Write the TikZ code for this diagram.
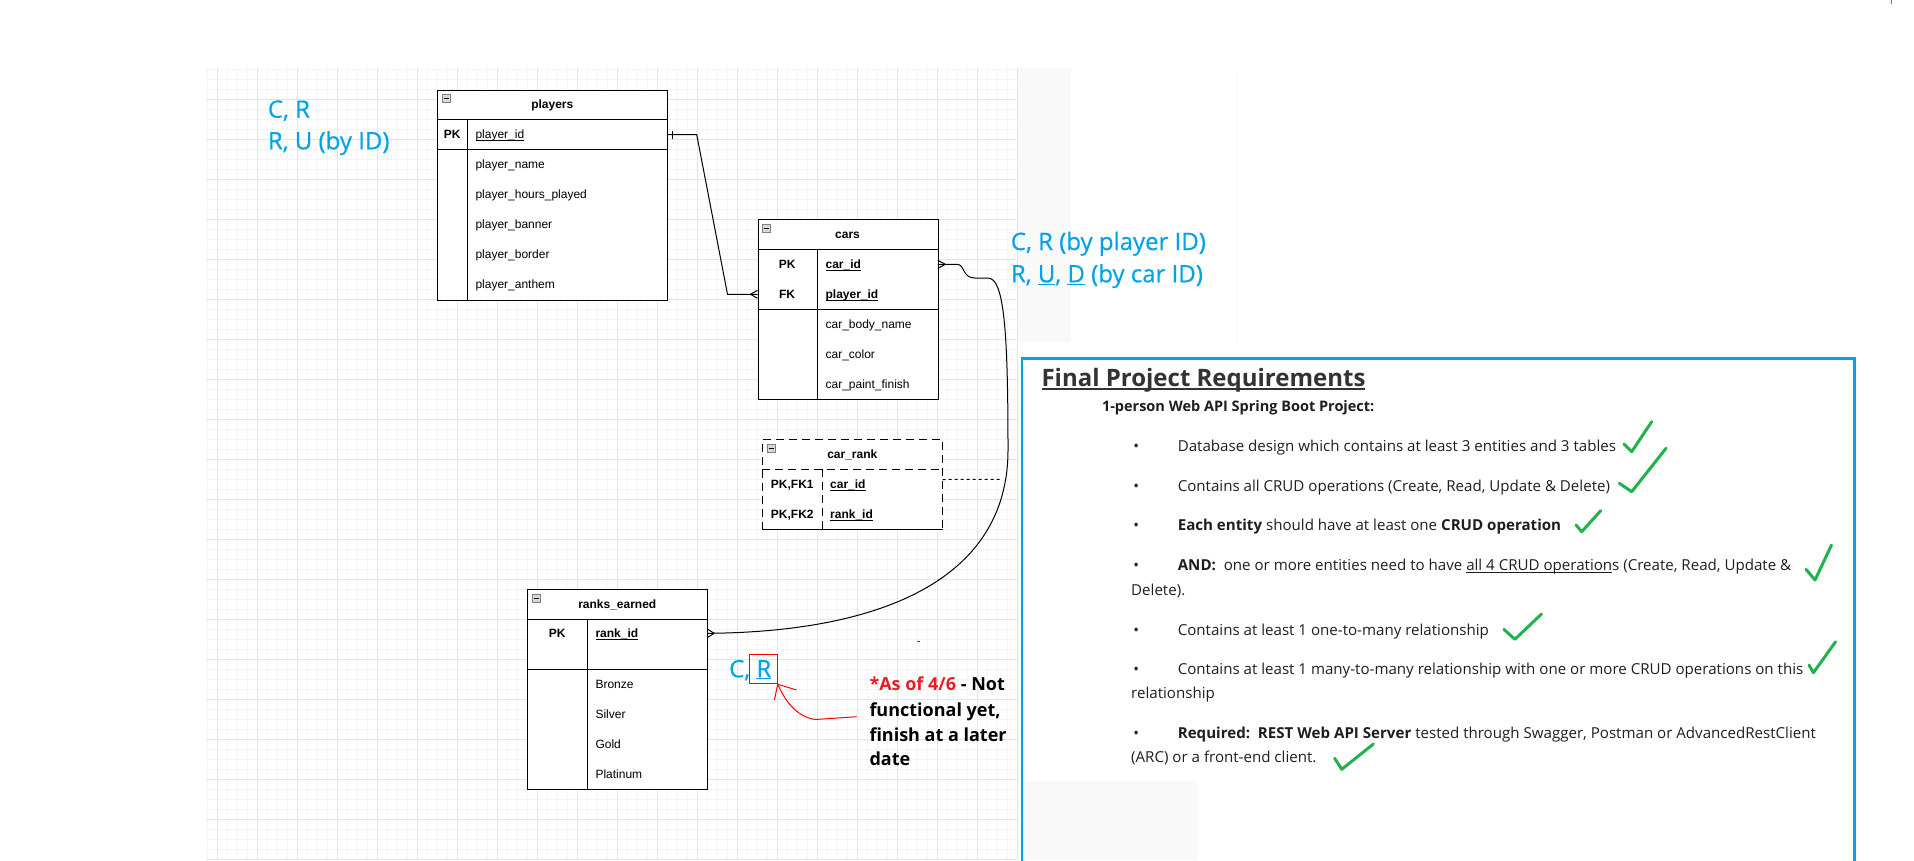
\documentclass[tikz,border=0pt]{standalone}
\usepackage{fontspec}
\setmainfont{Open Sans}
\newfontfamily\erfont{Liberation Sans}
\newfontfamily\annfont[FakeBold=0.4]{Open Sans}
\newcommand{\myul}[3]{\setbox0\hbox{#3}\rlap{\rule[-#1]{\wd0}{#2}}\box0\relax}
\definecolor{annblue}{HTML}{00A2E8}
\definecolor{chkgreen}{HTML}{22B14C}
\definecolor{notered}{HTML}{ED1C24}
\definecolor{gridminor}{HTML}{F5F5F5}
\definecolor{gridmajor}{HTML}{E5E5E5}
\definecolor{titlegray}{HTML}{333333}
\definecolor{bodytext}{HTML}{1E1E1E}
\definecolor{panelgray}{HTML}{F9F9F9}
\definecolor{icongray}{HTML}{D8D8D8}
\begin{document}
\begin{tikzpicture}[x=1pt,y=-1pt,
  erstyle/.style={font=\erfont\fontsize{12}{14}\selectfont},
  erbold/.style={font=\erfont\bfseries\fontsize{12}{14}\selectfont},
  tabbox/.style={draw=black, line width=1pt, fill=white, inner sep=0pt, anchor=north west},
  tabline/.style={draw=black, line width=1pt},
  dashline/.style={draw=black, line width=1pt, dash pattern=on 8pt off 5pt},
  rowbox/.style={inner sep=0pt, minimum height=30pt, anchor=west},
  fieldtxt/.style={erstyle, inner sep=0pt, anchor=base west},
  keytxt/.style={erbold, inner sep=0pt, anchor=base},
  titletxt/.style={erbold, inner sep=0pt, anchor=base},
  iconbox/.style={draw=gray, fill=icongray, line width=0.6pt, minimum size=8pt, inner sep=0pt,
     path picture={\draw[black, line width=0.9pt] ([xshift=-2.5pt]path picture bounding box.center) -- ([xshift=2.5pt]path picture bounding box.center);}},
  erline/.style={draw=black, line width=1pt},
  dotline/.style={draw=black, line width=1pt, dash pattern=on 3pt off 3pt},
  bluetxt/.style={font=\annfont\fontsize{24}{28}\selectfont, text=annblue, inner sep=0pt, anchor=base west},
  notetxt/.style={font=\bfseries\fontsize{18}{22}\selectfont, text=black, inner sep=0pt, anchor=base west},
  bodytxt/.style={font=\fontsize{15.1}{18}\selectfont, text=bodytext, inner sep=0pt, anchor=base west},
  check/.style={draw=chkgreen, line width=3pt, line cap=round, line join=round}
]
\useasboundingbox (0,0) rectangle (1914,860);
\clip (0,0) rectangle (1914,860);

% ---------- grid ----------
\foreach \gx in {207.3,217.3,...,1017.4} \draw[gridminor, line width=0.7pt] (\gx,68.3) -- (\gx,860);
\foreach \gy in {69.3,79.3,...,859.4} \draw[gridminor, line width=0.7pt] (206,\gy) -- (1018,\gy);
\foreach \gx in {217.3,257.3,...,1017.4} \draw[gridmajor, line width=0.8pt] (\gx,68.3) -- (\gx,860);
\foreach \gy in {99.3,139.3,...,859.4} \draw[gridmajor, line width=0.8pt] (206,\gy) -- (1018,\gy);

% faint panels
\fill[panelgray] (1018,68.3) rectangle (1071,341.7);
\draw[panelgray, line width=2pt] (1237,72) -- (1237,342);
\fill[panelgray] (1023,781) rectangle (1198,860);
\draw[annblue, line width=1pt] (1891,0) -- (1891,4);

% ---------- players ----------
\node[tabbox, minimum width=230pt, minimum height=210pt] (players) at (437.3,89.5) {};
\draw[tabline] (437.3,119.5) -- (667.3,119.5);
\draw[tabline] (437.3,149.5) -- (667.3,149.5);
\draw[tabline] (467.3,119.5) -- (467.3,299.5);
\node[iconbox] (players-icon) at (446.7,98.7) {};
\node[titletxt] (players-title) at (552.3,108.8) {players};
\node[rowbox, minimum width=230pt] (players-pk) at (437.3,134.5) {};
\node[keytxt] (players-pklbl) at (452.3,138.8) {PK};
\node[fieldtxt] (players-f1) at (475.3,138.8) {\myul{2pt}{0.8pt}{player\_id}};
\node[fieldtxt] (players-f2) at (475.3,168.8) {player\_name};
\node[fieldtxt] (players-f3) at (475.3,198.8) {player\_hours\_played};
\node[fieldtxt] (players-f4) at (475.3,228.8) {player\_banner};
\node[fieldtxt] (players-f5) at (475.3,258.8) {player\_border};
\node[fieldtxt] (players-f6) at (475.3,288.8) {player\_anthem};

% ---------- cars ----------
\node[tabbox, minimum width=180pt, minimum height=180pt] (cars) at (757.5,219.3) {};
\draw[tabline] (757.5,249.3) -- (937.5,249.3);
\draw[tabline] (757.5,309.3) -- (937.5,309.3);
\draw[tabline] (817.5,249.3) -- (817.5,399.3);
\node[iconbox] (cars-icon) at (766,228.7) {};
\node[titletxt] (cars-title) at (847.5,238.6) {cars};
\node[rowbox, minimum width=180pt] (cars-pk) at (757.5,264.3) {};
\node[rowbox, minimum width=180pt] (cars-fk) at (757.5,294.3) {};
\node[keytxt] (cars-pklbl) at (787.1,268.6) {PK};
\node[keytxt] (cars-fklbl) at (787.1,298.6) {FK};
\node[fieldtxt, erbold] (cars-f1) at (825.4,268.6) {\myul{2pt}{0.8pt}{car\_id}};
\node[fieldtxt, erbold] (cars-f2) at (825.4,298.6) {\myul{2pt}{0.8pt}{player\_id}};
\node[fieldtxt] (cars-f3) at (825.4,328.6) {car\_body\_name};
\node[fieldtxt] (cars-f4) at (825.4,358.6) {car\_color};
\node[fieldtxt] (cars-f5) at (825.4,388.6) {car\_paint\_finish};

% ---------- car_rank ----------
\node[fill=white, inner sep=0pt, anchor=north west, minimum width=180pt, minimum height=90pt] (carrank) at (762.3,439.3) {};
\draw[dashline] (carrank.south west) -- (carrank.north west) -- (carrank.north east) -- (carrank.south east);
\draw[tabline] (carrank.south west) -- (carrank.south east);
\draw[dashline] (762.3,469.3) -- (942.3,469.3);
\draw[dashline] (822.3,469.3) -- (822.3,529.3);
\node[iconbox] (carrank-icon) at (771.3,448.7) {};
\node[titletxt] (carrank-title) at (852.3,458.6) {car\_rank};
\node[keytxt] (carrank-k1) at (792.3,488.6) {PK,FK1};
\node[keytxt] (carrank-k2) at (792.3,518.6) {PK,FK2};
\node[fieldtxt, erbold] (carrank-f1) at (830,488.6) {\myul{2pt}{0.8pt}{car\_id}};
\node[fieldtxt, erbold] (carrank-f2) at (830,518.6) {\myul{2pt}{0.8pt}{rank\_id}};

% ---------- ranks_earned ----------
\node[tabbox, minimum width=180pt, minimum height=200pt] (ranks) at (527.3,589.3) {};
\draw[tabline] (527.3,619.3) -- (707.3,619.3);
\draw[tabline] (527.3,669.3) -- (707.3,669.3);
\draw[tabline] (587.3,619.3) -- (587.3,789.3);
\node[iconbox] (ranks-icon) at (536,598.7) {};
\node[titletxt] (ranks-title) at (617.3,608.6) {ranks\_earned};
\node[rowbox, minimum width=180pt] (ranks-pk) at (527.3,633.3) {};
\node[keytxt] (ranks-pklbl) at (557.3,637.6) {PK};
\node[fieldtxt, erbold] (ranks-f1) at (595.3,637.6) {\myul{2pt}{0.8pt}{rank\_id}};
\node[fieldtxt] (ranks-f2) at (595.3,688.6) {Bronze};
\node[fieldtxt] (ranks-f3) at (595.3,718.6) {Silver};
\node[fieldtxt] (ranks-f4) at (595.3,748.6) {Gold};
\node[fieldtxt] (ranks-f5) at (595.3,778.6) {Platinum};

% ---------- connectors ----------
% players (one) -> cars (many)
\draw[erline] (players-pk.east) -- ++(29,0) -- (727.5,294.3) -- (cars-fk.west);
\draw[erline] ([xshift=4.5pt]players-pk.east) ++(0,-4) -- ++(0,8);
\draw[erline] ([xshift=-7pt]cars-fk.west) -- ([yshift=4pt]cars-fk.west);
\draw[erline] ([xshift=-7pt]cars-fk.west) -- ([yshift=-4pt]cars-fk.west);
% cars (many) -> ranks_earned (many)
\draw[erline] (cars-pk.east) -- (957,264.3) .. controls (965,264.3) and (962,278) .. (975,278)
   -- (988,278) .. controls (1004,278) and (1008,330) .. (1008,450)
   .. controls (1008,580) and (880,632) .. (ranks-pk.east);
\draw[erline] ([xshift=7.5pt]cars-pk.east) -- ([yshift=4pt]cars-pk.east);
\draw[erline] ([xshift=7.5pt]cars-pk.east) -- ([yshift=-4pt]cars-pk.east);
\draw[erline] ([xshift=6.5pt]ranks-pk.east) -- ([yshift=4pt]ranks-pk.east);
\draw[erline] ([xshift=6.5pt]ranks-pk.east) -- ([yshift=-4pt]ranks-pk.east);
% association (dotted)
\coordinate (assoc-end) at (1001,479.3);
\draw[dotline] ([yshift=5pt]carrank.east) -- (assoc-end);

% ---------- blue annotations ----------
\node[bluetxt] (ann-players1) at (267.7,117.7) {C, R};
\node[bluetxt] (ann-players2) at (267.7,149.3) {R, U (by ID)};
\node[bluetxt] (ann-cars1) at (1010.7,250) {C, R (by player ID)};
\node[bluetxt] (ann-cars2) at (1010.7,282.3) {R, \myul{3pt}{1.2pt}{U}, \myul{3pt}{1.2pt}{D} (by car ID)};
\node[bluetxt] (ann-ranks) at (729,677.3) {C, \myul{2pt}{1.2pt}{R}};
\node[draw=red, line width=1pt, inner sep=0pt, minimum width=27.4pt, minimum height=29.3pt, anchor=north west] (rbox) at (749.3,654) {};

% ---------- red note ----------
\node[notetxt] (note1) at (869.3,690.7) {\textcolor{notered}{*As of 4/6} - Not};
\node[notetxt] (note2) at (869.3,716.2) {functional yet,};
\node[notetxt] (note3) at (869.3,741) {finish at a later};
\node[notetxt] (note4) at (869.3,765.5) {date};
\coordinate (note-arrow-start) at (856.7,716.7);
\draw[red, line width=1pt] (note-arrow-start) -- (815,719.5) .. controls (795,716) and (785,700) .. (rbox.south east);
\draw[red, line width=1pt] (rbox.south east) -- ++(19,5.7);
\draw[red, line width=1pt] (rbox.south east) -- ++(-3.3,15.7);
\draw[red, line width=1pt] (917,641.3) -- (920,641.3);

% ---------- requirements box ----------
\node[draw=annblue, line width=2.7pt, inner sep=0pt, minimum width=832.8pt, minimum height=600pt, anchor=north west] (reqbox) at (1020.5,357.3) {};
\node[inner sep=0pt, anchor=base west, font=\bfseries\fontsize{24}{28}\selectfont, text=titlegray] (reqtitle) at (1041.3,386.7) {\myul{3.3pt}{1.6pt}{Final Project Requirements}};
\node[inner sep=0pt, anchor=base west, font=\bfseries\fontsize{14.5}{17}\selectfont, text=bodytext] (reqsub) at (1101.8,411.7) {1-person Web API Spring Boot Project:};

\node[bodytxt] (bul1) at (1133.2,451) {•};
\node[bodytxt] (req1) at (1177.6,451) {Database design which contains at least 3 entities and 3 tables};
\node[bodytxt] (bul2) at (1133.2,491) {•};
\node[bodytxt] (req2) at (1177.6,491) {Contains all CRUD operations (Create, Read, Update \& Delete)};
\node[bodytxt] (bul3) at (1133.2,530.7) {•};
\node[bodytxt] (req3) at (1177.6,530.7) {\textbf{Each entity} should have at least one \textbf{CRUD operation}};
\node[bodytxt] (bul4) at (1133.2,570.5) {•};
\node[bodytxt] (req4) at (1177.6,570.5) {\textbf{AND:}\ \ one or more entities need to have \myul{2.5pt}{0.9pt}{all 4 CRUD operation}s (Create, Read, Update \&};
\node[bodytxt] (req4b) at (1131,595) {Delete).};
\node[bodytxt] (bul5) at (1133.2,635) {•};
\node[bodytxt] (req5) at (1177.6,635) {Contains at least 1 one-to-many relationship};
\node[bodytxt] (bul6) at (1133.2,674) {•};
\node[bodytxt] (req6) at (1177.6,674) {Contains at least 1 many-to-many relationship with one or more CRUD operations on this};
\node[bodytxt] (req6b) at (1131,698.3) {relationship};
\node[bodytxt] (bul7) at (1133.2,738.3) {•};
\node[bodytxt] (req7) at (1177.6,738.3) {\textbf{Required:}\ \ \textbf{REST Web API Server} tested through Swagger, Postman or AdvancedRestClient};
\node[bodytxt] (req7b) at (1131,762.7) {(ARC) or a front-end client.};

% checkmarks
\draw[check] (1624,444) -- (1631.7,451.7) -- (1651.7,421.7);
\draw[check] (1619.3,483.3) -- (1631.7,491.7) -- (1666,448.3);
\draw[check] (1576,525) -- (1581.7,531.7) -- (1600.7,510.7);
\draw[check] (1806,569.3) -- (1815,580) -- (1831.5,545);
\draw[check] (1503.8,629.3) -- (1514.9,639.3) -- (1541.5,614);
\draw[check] (1809,665) -- (1813.4,672.7) -- (1835.6,641.7);
\draw[check] (1334.6,758.3) -- (1341.8,769.3) -- (1373.4,744);
\end{tikzpicture}
\end{document}
